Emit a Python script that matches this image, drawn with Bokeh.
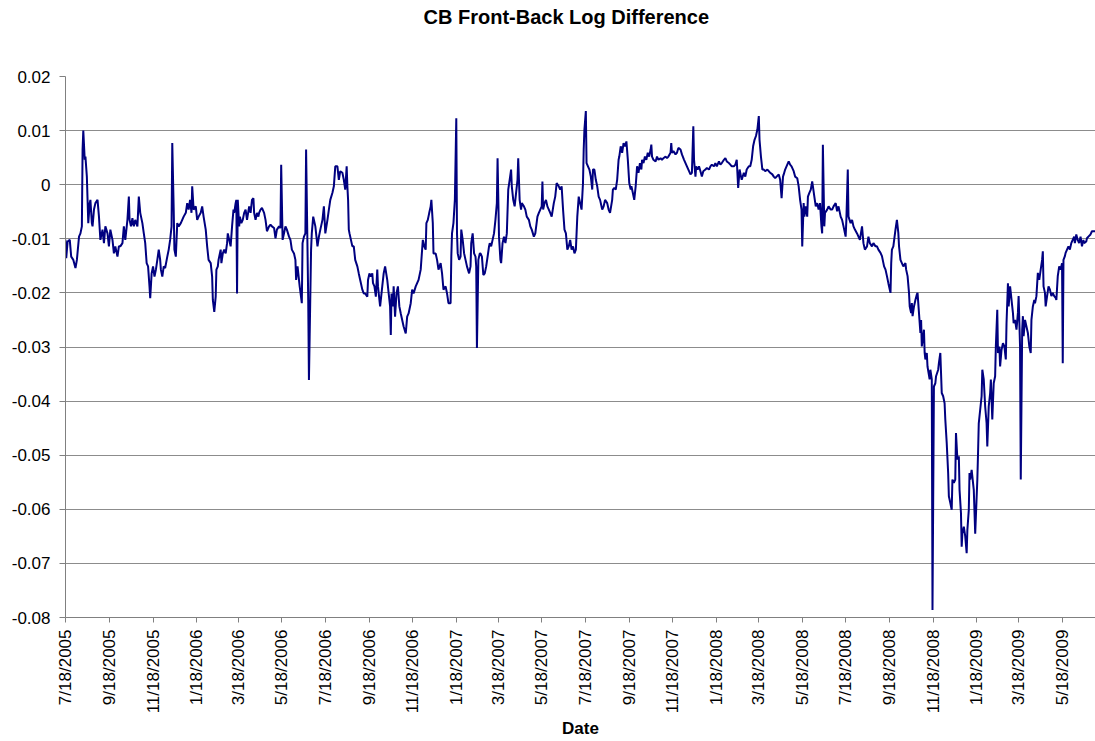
import math
import pandas as pd
from bokeh.plotting import figure
from bokeh.models import FixedTicker, Range1d, ColumnDataSource, Title
from bokeh.embed import file_html
from bokeh.resources import INLINE

start_date = "2005-07-18"

day_offsets = [
    0, 1, 3, 6, 8, 11, 14, 16, 19, 21, 23, 24, 25, 27, 28, 30, 31, 32, 34, 35, 37, 38, 40, 42, 45, 47, 49,
    52, 54, 56, 59, 61, 63, 66, 68, 70, 73, 75, 77, 80, 82, 84, 87, 89, 90, 92, 94, 96, 98, 101, 103, 105,
    108, 110, 112, 114, 116, 118, 119, 121, 123, 125, 127, 129, 131, 133, 134, 136, 138, 140, 143, 145, 147,
    149, 150, 152, 153, 155, 157, 159, 162, 164, 166, 169, 171, 173, 175, 177, 178, 180, 183, 185, 187, 190,
    192, 194, 197, 199, 201, 204, 206, 207, 209, 211, 212, 214, 215, 218, 219, 221, 223, 225, 227, 228, 230,
    232, 234, 236, 237, 239, 240, 241, 242, 244, 245, 247, 249, 251, 253, 255, 258, 260, 262, 264, 265, 267,
    269, 271, 272, 274, 276, 279, 281, 283, 286, 288, 290, 293, 295, 297, 300, 302, 303, 305, 307, 309, 311,
    314, 316, 318, 321, 323, 324, 326, 329, 332, 333, 335, 337, 338, 339, 341, 342, 343, 345, 346, 348, 349,
    351, 354, 356, 358, 361, 363, 365, 368, 370, 372, 375, 377, 379,
    382, 384, 386, 389, 391, 393, 395, 396, 397, 398, 399, 401, 403, 405, 407, 410, 412, 414, 417, 419, 421,
    424, 425, 427, 429, 431, 432, 434, 436, 438, 439, 441, 442, 445, 447, 449, 452, 454, 456, 457, 458, 460,
    461, 463, 465, 467, 469, 471, 473, 475, 478, 480, 482, 485, 487, 489, 492, 494, 496, 499, 501, 502, 504,
    506, 507, 509, 511, 513, 514, 516, 517, 520, 522, 524, 527, 529, 531, 534, 536, 538, 541, 542, 543, 545,
    547, 549, 550, 551, 553, 555, 556, 558, 560, 562, 564, 567, 569,
    570, 572, 574, 576, 577, 578, 580, 582, 583, 585, 587, 589, 591, 593, 595, 596, 598, 600, 602, 604, 606,
    607, 609, 611, 612, 614, 616, 618, 620, 622, 624, 626, 627, 629, 631, 633, 635, 636, 638, 640, 641, 644,
    646, 648, 651, 653, 655, 658, 660, 663, 665, 667, 669, 670, 671, 673, 675, 677, 679, 681, 683, 686, 688,
    690, 693, 695, 697, 699, 701, 703, 705, 707, 709, 711, 713, 715, 717, 719, 721, 723, 725, 727, 728, 729,
    731, 732, 734, 736, 738, 740, 741, 743, 745, 747, 749, 751, 754, 756, 758,
    761, 763, 765, 768, 769, 771, 773, 775, 777, 778, 780, 782, 784, 786, 788, 790, 792, 794, 795, 797, 799,
    801, 803, 805, 807, 809, 810, 812, 814, 816, 818, 820, 822, 823, 824, 826, 829, 831, 833, 836, 838, 840,
    843, 845, 847, 850, 851, 852, 854, 857, 859, 861, 864, 866, 869, 871, 873, 876, 878, 880, 882, 883, 885,
    886, 888, 890, 892, 894, 896, 899, 901, 904, 906, 908, 911, 913, 915, 918, 920, 922, 925, 927, 929, 932,
    934, 936, 939, 941, 943,
    945, 947, 949, 950, 953, 955, 957, 960, 962, 964, 966, 968, 970, 972, 974, 975, 977, 979, 981, 983, 986,
    988, 990, 993, 995, 997, 999, 1002, 1004, 1006, 1008, 1009, 1011, 1014, 1016, 1018, 1020, 1023, 1025,
    1028, 1030, 1032, 1034, 1035, 1037, 1038, 1040, 1042, 1043, 1045, 1047, 1049, 1050, 1052, 1054, 1056,
    1058, 1060, 1062, 1063, 1064, 1066, 1067, 1070, 1072, 1075, 1077, 1079, 1082, 1084, 1086, 1089, 1091,
    1093, 1096, 1097, 1099, 1100, 1103, 1105, 1107, 1109, 1112, 1114, 1116, 1119, 1121, 1123, 1126, 1128,
    1130, 1133, 1135, 1138,
    1140, 1142, 1145, 1147, 1150, 1152, 1154, 1156, 1159, 1160, 1161, 1163, 1166, 1168, 1170, 1171, 1173,
    1175, 1177, 1180, 1181, 1183, 1185, 1186, 1188, 1189, 1190, 1192, 1194, 1196, 1197, 1199, 1201, 1202,
    1203, 1206, 1207, 1208, 1210, 1211, 1214, 1215, 1217, 1218, 1220, 1222, 1223, 1226, 1227, 1229, 1231,
    1233, 1235, 1236, 1238, 1240, 1241, 1243, 1245, 1246, 1248, 1250, 1251, 1253, 1255, 1256, 1258, 1259,
    1260, 1262, 1264, 1266, 1267, 1269, 1270, 1271,
    1273, 1276, 1278, 1281, 1282, 1283, 1285, 1287, 1288, 1290, 1292, 1294, 1295, 1297, 1299, 1300, 1302,
    1304, 1306, 1307, 1309, 1310, 1312, 1313, 1315, 1317, 1319, 1321, 1322, 1324, 1325, 1327, 1328, 1330,
    1331, 1332, 1334, 1336, 1338, 1339, 1341, 1342, 1344, 1345, 1346, 1348, 1350, 1352, 1354, 1356, 1357,
    1359, 1361, 1362, 1364, 1366, 1368, 1370, 1372, 1373, 1374, 1376, 1377, 1379, 1381, 1383, 1385, 1387,
    1389, 1391, 1392, 1394, 1396, 1398, 1400, 1401, 1402, 1404, 1405, 1407, 1409, 1411, 1413, 1415, 1417,
    1418, 1420, 1422, 1424, 1426, 1428, 1430, 1431, 1434, 1435, 1437, 1440, 1442, 1444, 1447,
]

log_diff = [
    -0.0102, -0.0136, -0.0105, -0.0102, -0.0133, -0.0139, -0.0154, -0.0139, -0.0096, -0.0090, -0.0077, 0.0065,
    0.0100, 0.0046, 0.0052, 0.0015, -0.0028, -0.0071, -0.0034, -0.0028, -0.0071, -0.0077, -0.0046, -0.0034,
    -0.0028, -0.0059, -0.0102, -0.0083, -0.0108, -0.0077, -0.0090, -0.0114, -0.0083, -0.0102, -0.0127, -0.0114,
    -0.0133, -0.0114, -0.0114, -0.0108, -0.0077, -0.0102, -0.0065, -0.0022, -0.0065, -0.0077, -0.0062, -0.0077,
    -0.0065, -0.0077, -0.0022, -0.0052, -0.0071, -0.0090, -0.0108, -0.0145, -0.0151, -0.0188, -0.0210, -0.0164,
    -0.0151, -0.0170, -0.0157, -0.0139, -0.0120, -0.0139, -0.0157, -0.0170, -0.0151, -0.0154, -0.0133, -0.0120,
    -0.0102, -0.0077, 0.0077, -0.0046, -0.0120, -0.0133, -0.0071, -0.0077, -0.0071, -0.0065, -0.0059, -0.0052,
    -0.0034, -0.0046, -0.0028, -0.0052, -0.0003, -0.0046, -0.0040, -0.0065, -0.0059, -0.0052,
    -0.0040, -0.0059, -0.0083, -0.0114, -0.0139, -0.0145, -0.0170, -0.0213, -0.0235, -0.0207, -0.0157, -0.0151,
    -0.0139, -0.0120, -0.0145, -0.0127, -0.0120, -0.0127, -0.0108, -0.0090, -0.0102, -0.0114, -0.0077, -0.0046,
    -0.0052, -0.0034, -0.0028, -0.0201, -0.0028, -0.0077, -0.0059, -0.0071, -0.0065, -0.0052, -0.0046, -0.0065,
    -0.0040, -0.0052, -0.0028, -0.0025, -0.0052, -0.0065, -0.0052, -0.0059, -0.0052, -0.0046, -0.0043, -0.0052,
    -0.0065, -0.0086, -0.0077, -0.0074, -0.0077, -0.0080, -0.0099, -0.0083, -0.0077, -0.0080, 0.0037, -0.0102,
    -0.0090, -0.0077, -0.0083, -0.0096, -0.0102, -0.0120, -0.0127, -0.0139, -0.0176, -0.0151, -0.0188, -0.0219,
    -0.0108, -0.0096, -0.0090, 0.0065, -0.0028, -0.0213, -0.0361, -0.0281, -0.0120, -0.0090, -0.0059, -0.0065,
    -0.0077, -0.0114, -0.0096, -0.0083, -0.0065, -0.0040, -0.0090, -0.0065, -0.0046, -0.0028, -0.0015, -0.0003,
    0.0034,
    0.0034, 0.0009, 0.0025, 0.0022, 0.0009, -0.0009, 0.0034, -0.0003, -0.0028, -0.0083, -0.0090, -0.0102,
    -0.0114, -0.0114, -0.0139, -0.0151, -0.0164, -0.0176, -0.0194, -0.0201, -0.0201, -0.0207, -0.0176, -0.0164,
    -0.0170, -0.0164, -0.0182, -0.0188, -0.0207, -0.0157, -0.0188, -0.0213, -0.0225, -0.0188, -0.0164, -0.0151,
    -0.0176, -0.0201, -0.0225, -0.0278, -0.0201, -0.0225, -0.0188, -0.0244, -0.0201, -0.0188, -0.0225, -0.0238,
    -0.0250, -0.0262, -0.0275, -0.0244, -0.0238, -0.0219, -0.0194, -0.0201, -0.0188, -0.0182, -0.0176, -0.0157,
    -0.0120, -0.0102, -0.0114, -0.0120, -0.0071, -0.0065, -0.0052, -0.0040, -0.0028, -0.0071, -0.0127, -0.0127,
    -0.0139, -0.0157, -0.0145, -0.0164, -0.0194, -0.0188, -0.0201, -0.0219, -0.0219, -0.0133, -0.0090, -0.0071,
    -0.0028, 0.0123, -0.0090, -0.0127, -0.0139, -0.0133, -0.0083, -0.0102, -0.0127, -0.0139, -0.0151, -0.0164,
    -0.0151,
    -0.0108, -0.0090, -0.0127, -0.0133, -0.0151, -0.0302, -0.0139, -0.0127, -0.0127, -0.0133, -0.0167, -0.0164,
    -0.0151, -0.0133, -0.0114, -0.0108, -0.0114, -0.0102, -0.0090, -0.0065, -0.0034, 0.0049, -0.0096, -0.0139,
    -0.0145, -0.0108, -0.0096, -0.0108, -0.0090, -0.0009, 0.0009, 0.0028, -0.0003, -0.0028, -0.0040, -0.0015,
    0.0009, 0.0049, -0.0028, -0.0046, -0.0034, -0.0040, -0.0046, -0.0059, -0.0065, -0.0077, -0.0083, -0.0096,
    -0.0090, -0.0059, -0.0052, -0.0046, -0.0040, 0.0006, -0.0046, -0.0034, -0.0028, -0.0040, -0.0046, -0.0052,
    -0.0059, -0.0034, -0.0022, 0.0003, -0.0003, -0.0009, -0.0003, -0.0046, -0.0083, -0.0090, -0.0120, -0.0114,
    -0.0102, -0.0120, -0.0114, -0.0127, -0.0120, -0.0059, -0.0022, -0.0034, -0.0046, 0.0003, 0.0065, 0.0102,
    0.0136, 0.0040, 0.0034, 0.0028, 0.0015, -0.0009, 0.0028, 0.0028, 0.0009, -0.0003, -0.0022, -0.0028,
    -0.0046, -0.0040, -0.0028,
    -0.0034, -0.0046, -0.0052, -0.0028, -0.0009, -0.0006, -0.0009, 0.0009, 0.0046, 0.0052, 0.0071, 0.0059,
    0.0077, 0.0071, 0.0080, 0.0046, 0.0003, -0.0009, -0.0003, -0.0015, -0.0028, -0.0003, 0.0034, 0.0022,
    0.0040, 0.0028, 0.0046, 0.0040, 0.0052, 0.0046, 0.0059, 0.0052, 0.0065, 0.0074, 0.0052, 0.0046, 0.0043,
    0.0052, 0.0046, 0.0049, 0.0046, 0.0049, 0.0052, 0.0049, 0.0052, 0.0059, 0.0077, 0.0059, 0.0062, 0.0056,
    0.0059, 0.0068, 0.0065, 0.0056, 0.0046, 0.0040, 0.0034, 0.0025, 0.0019, 0.0022, 0.0108, 0.0046, 0.0015,
    0.0034, 0.0028, 0.0034, 0.0025, 0.0015, 0.0025, 0.0028, 0.0031, 0.0028, 0.0034, 0.0037, 0.0034, 0.0040,
    0.0034, 0.0043, 0.0037, 0.0040, 0.0046, 0.0049, 0.0043, 0.0040, 0.0037, 0.0034, 0.0034, 0.0037, 0.0046,
    -0.0006, 0.0028, 0.0015, 0.0009, 0.0022, 0.0015, 0.0028, 0.0034, 0.0034, 0.0046, 0.0071, 0.0083, 0.0090,
    0.0102, 0.0127, 0.0083, 0.0052, 0.0028, 0.0028, 0.0025, 0.0028, 0.0025, 0.0022, 0.0019, 0.0015, 0.0012,
    0.0015, 0.0019, 0.0009, -0.0025, 0.0015, 0.0019, 0.0028, 0.0037, 0.0043, 0.0037, 0.0034, 0.0025, 0.0015,
    0.0012, -0.0003, -0.0028, -0.0046, -0.0114, -0.0034, -0.0059, -0.0040, -0.0059, -0.0022, -0.0015, -0.0009,
    0.0006, -0.0003, -0.0022, -0.0040, -0.0034, -0.0046, -0.0034, -0.0077, -0.0090, 0.0074, -0.0077, -0.0052,
    -0.0046, -0.0040, -0.0046, -0.0046, -0.0040, -0.0034, -0.0049, -0.0040, -0.0059, -0.0065, -0.0077, -0.0096,
    -0.0065, 0.0028, -0.0059, -0.0071, -0.0065, -0.0077, -0.0083, -0.0090, -0.0096, -0.0102, -0.0077, -0.0108,
    -0.0120, -0.0114, -0.0096, -0.0108, -0.0114, -0.0108, -0.0114,
    -0.0114, -0.0120, -0.0126, -0.0132, -0.0151, -0.0157, -0.0169, -0.0182, -0.0200, -0.0145, -0.0120, -0.0114,
    -0.0083, -0.0065, -0.0089, -0.0114, -0.0139, -0.0145, -0.0151, -0.0145, -0.0157, -0.0169, -0.0200, -0.0225,
    -0.0237, -0.0219, -0.0243, -0.0225, -0.0213, -0.0203, -0.0200, -0.0237, -0.0274, -0.0250, -0.0299, -0.0268,
    -0.0311, -0.0323, -0.0311, -0.0336, -0.0360, -0.0342, -0.0360, -0.0786, -0.0373, -0.0367, -0.0354, -0.0342,
    -0.0330, -0.0311, -0.0385, -0.0391, -0.0404, -0.0434, -0.0478, -0.0533, -0.0576, -0.0588, -0.0601, -0.0545,
    -0.0551, -0.0545, -0.0459, -0.0508, -0.0502, -0.0564, -0.0607, -0.0669, -0.0644, -0.0632, -0.0650, -0.0681,
    -0.0638, -0.0601, -0.0533, -0.0545,
    -0.0527, -0.0564, -0.0645, -0.0545, -0.0496, -0.0441, -0.0416, -0.0391, -0.0342, -0.0360, -0.0410, -0.0441,
    -0.0484, -0.0410, -0.0385, -0.0360, -0.0434, -0.0367, -0.0354, -0.0299, -0.0231, -0.0311, -0.0299, -0.0336,
    -0.0305, -0.0293, -0.0299, -0.0323, -0.0256, -0.0182, -0.0225, -0.0188, -0.0200, -0.0225, -0.0237, -0.0256,
    -0.0250, -0.0268, -0.0237, -0.0206, -0.0299, -0.0545, -0.0268, -0.0243, -0.0280, -0.0250, -0.0262, -0.0274,
    -0.0299, -0.0311, -0.0250, -0.0225, -0.0213, -0.0219, -0.0206, -0.0163, -0.0176, -0.0157, -0.0139, -0.0123,
    -0.0188, -0.0200, -0.0225, -0.0206, -0.0188, -0.0194, -0.0206, -0.0200, -0.0206, -0.0209, -0.0213, -0.0169,
    -0.0151, -0.0157, -0.0145, -0.0330, -0.0139, -0.0132, -0.0126, -0.0120, -0.0114, -0.0120, -0.0108, -0.0102,
    -0.0096, -0.0108, -0.0092, -0.0102, -0.0108, -0.0096, -0.0114, -0.0102, -0.0108, -0.0105, -0.0099, -0.0096,
    -0.0092, -0.0086, -0.0086, -0.0086,
]

x_tick_labels = [
    "7/18/2005", "9/18/2005", "11/18/2005", "1/18/2006", "3/18/2006", "5/18/2006", "7/18/2006",
    "9/18/2006", "11/18/2006", "1/18/2007", "3/18/2007", "5/18/2007", "7/18/2007", "9/18/2007",
    "11/18/2007", "1/18/2008", "3/18/2008", "5/18/2008", "7/18/2008", "9/18/2008", "11/18/2008",
    "1/18/2009", "3/18/2009", "5/18/2009",
]
y_ticks = [-0.08, -0.07, -0.06, -0.05, -0.04, -0.03, -0.02, -0.01, 0.0, 0.01, 0.02]
y_tick_labels = ["-0.08", "-0.07", "-0.06", "-0.05", "-0.04", "-0.03", "-0.02", "-0.01", "0", "0.01", "0.02"]

chart_title = "CB Front-Back Log Difference"
x_axis_title = "Date"

t0 = pd.Timestamp(start_date)
dates = t0 + pd.to_timedelta(day_offsets, unit="D")
src = ColumnDataSource(dict(date=dates, value=log_diff))

epoch = pd.Timestamp("1970-01-01")
tick_ms = [float((pd.Timestamp(pd.to_datetime(s, format="%m/%d/%Y")) - epoch).total_seconds() * 1000.0)
           for s in x_tick_labels]

FONT = "Liberation Sans"

p = figure(
    width=1095, height=741,
    x_axis_type="datetime",
    output_backend="svg", toolbar_location=None,
    x_range=Range1d(start=dates[0], end=dates[-1]),
    y_range=Range1d(start=y_ticks[0], end=y_ticks[-1]),
    min_border_left=65, min_border_right=0, min_border_top=76, min_border_bottom=124,
)
p.outline_line_color = None
p.background_fill_color = "white"
p.border_fill_color = "white"

# blank spacer (nearest the frame), then the real title at the top of the page
p.add_layout(Title(text=" ", text_font=FONT, text_font_size="20px", standoff=18), "above")
p.add_layout(Title(
    text=chart_title, align="left", offset=358, vertical_align="top", standoff=10,
    text_font=FONT, text_font_size="20px", text_font_style="bold", text_color="#000000",
), "above")

p.line("date", "value", source=src, line_color="#000080", line_width=2)

# y axis
p.yaxis.ticker = FixedTicker(ticks=y_ticks)
p.yaxis.major_label_overrides = dict(zip(y_ticks, y_tick_labels))
p.yaxis.major_label_text_font = FONT
p.yaxis.major_label_text_font_size = "17px"
p.yaxis.major_label_text_color = "#000000"
p.yaxis.major_label_standoff = 9
p.yaxis.major_tick_in = 0
p.yaxis.major_tick_out = 6
p.yaxis.minor_tick_line_color = None
p.yaxis.axis_line_color = "#808080"
p.yaxis.major_tick_line_color = "#808080"

# x axis
p.xaxis.ticker = FixedTicker(ticks=tick_ms)
p.xaxis.major_label_overrides = dict(zip(tick_ms, x_tick_labels))
p.xaxis.major_label_orientation = math.pi / 2
p.xaxis.major_label_text_font = FONT
p.xaxis.major_label_text_font_size = "17px"
p.xaxis.major_label_text_color = "#000000"
p.xaxis.major_label_standoff = 7
p.xaxis.major_tick_in = 0
p.xaxis.major_tick_out = 5
p.xaxis.minor_tick_line_color = None
p.xaxis.axis_line_color = "#808080"
p.xaxis.major_tick_line_color = "#808080"
p.xaxis.axis_label = x_axis_title
p.xaxis.axis_label_text_font = FONT
p.xaxis.axis_label_text_font_size = "17px"
p.xaxis.axis_label_text_font_style = "bold"
p.xaxis.axis_label_text_color = "#000000"
p.xaxis.axis_label_standoff = 3

p.xgrid.visible = False
p.ygrid.ticker = FixedTicker(ticks=y_ticks)
p.ygrid.grid_line_color = "#8c8c8c"
p.ygrid.grid_line_width = 1

open("out.html", "w").write(file_html(p, INLINE))
